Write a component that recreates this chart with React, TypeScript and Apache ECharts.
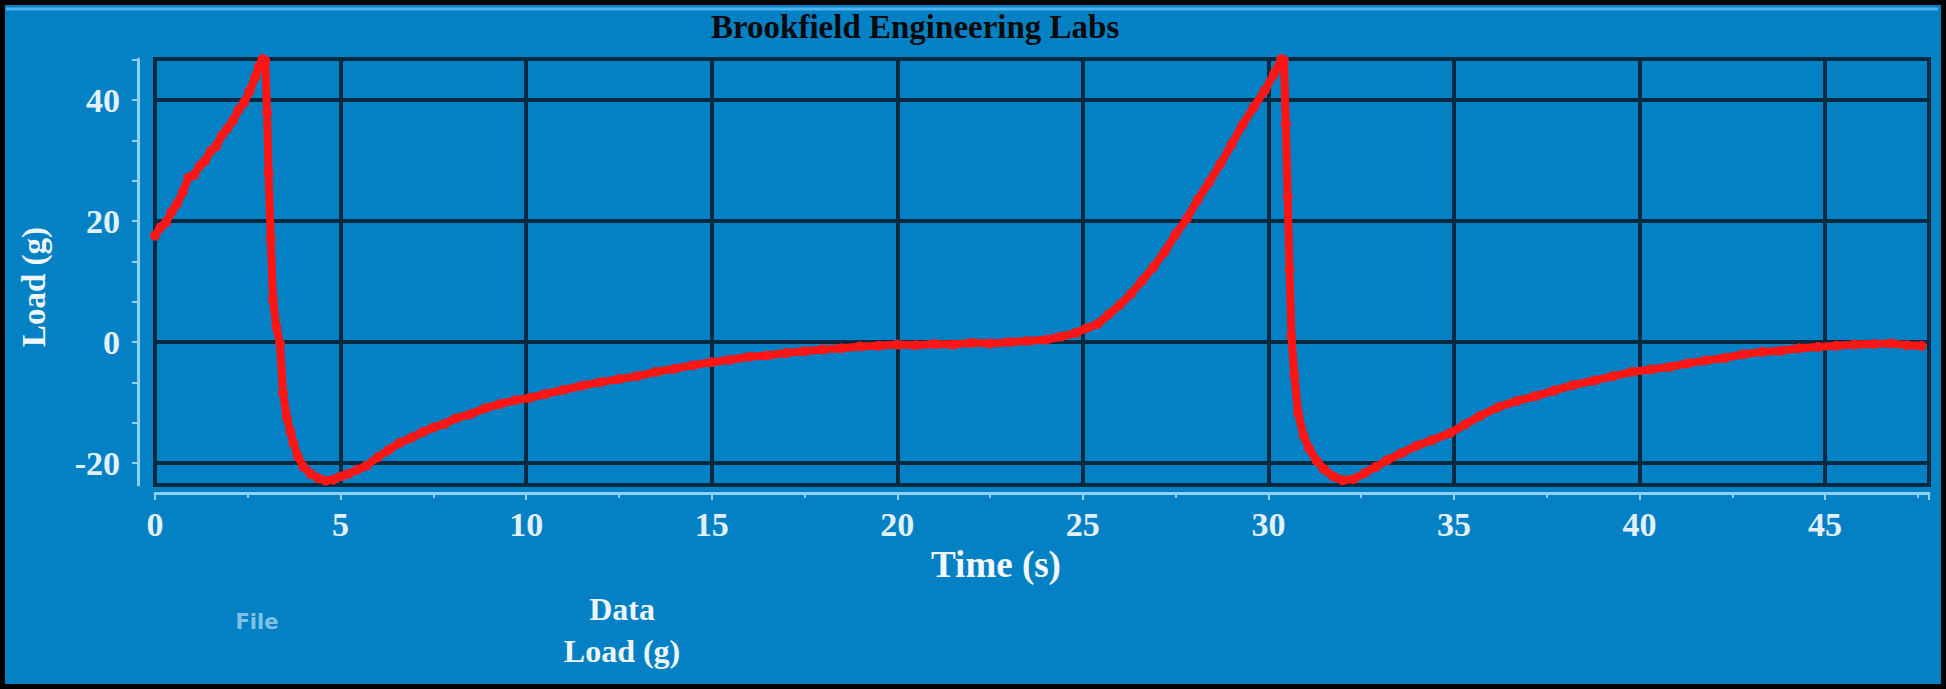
import React, { useEffect, useRef } from "react";
import * as echarts from "echarts";

// Time (s) and load (g)
const timeS = [
  0.0, 0.15, 0.3, 0.45, 0.6, 0.75, 0.9, 1.05, 1.2, 1.35, 1.5, 1.65, 1.8, 1.95, 2.1, 2.25, 2.4, 2.55, 2.7, 2.8, 2.9,
  2.97, 3.02, 3.06, 3.12, 3.18, 3.27, 3.37, 3.45, 3.55, 3.65, 3.73, 3.85, 4.0, 4.2, 4.4, 4.6, 4.8, 5.0, 5.2, 5.45,
  5.7, 6.0, 6.3, 6.6, 6.9, 7.2, 7.5, 7.8, 8.1, 8.5, 8.9, 9.3, 9.7, 10.1, 10.5, 11.0, 11.5, 12.0, 12.5, 13.0, 13.5,
  14.0, 14.5, 15.0, 15.5, 16.0, 16.5, 17.0, 17.5, 18.0, 18.5, 19.0, 19.5, 20.0, 20.5, 21.0, 21.5, 22.0, 22.5, 23.0,
  23.5, 24.0, 24.4, 24.8, 25.1, 25.4, 25.7, 26.0, 26.3, 26.6, 26.9, 27.2, 27.5, 27.8, 28.1, 28.4, 28.7, 29.0, 29.3,
  29.6, 29.9, 30.15, 30.35, 30.42, 30.47, 30.52, 30.57, 30.62, 30.7, 30.8, 30.95, 31.1, 31.3, 31.5, 31.75, 32.0,
  32.3, 32.6, 32.9, 33.2, 33.6, 34.0, 34.4, 34.9, 35.3, 35.7, 36.2, 36.7, 37.2, 37.7, 38.2, 38.8, 39.3, 39.8, 40.3,
  40.8, 41.3, 41.8, 42.3, 42.8, 43.3, 43.8, 44.3, 44.8, 45.3, 45.8, 46.3, 46.8, 47.2, 47.6,
];
const loadG = [
  17.6, 19.0, 19.8, 21.6, 22.9, 24.8, 27.2, 27.6, 29.1, 30.0, 31.6, 32.4, 34.2, 35.3, 36.6, 38.4, 39.6, 41.5, 43.8,
  45.6, 46.8, 46.5, 38.0, 28.0, 17.0, 7.0, 2.5, -0.3, -8.4, -12.4, -14.8, -16.7, -18.9, -20.6, -21.8, -22.5, -22.9,
  -22.7, -22.2, -21.8, -21.1, -20.4, -19.0, -17.8, -16.6, -15.8, -14.9, -14.1, -13.5, -12.6, -11.9, -10.9, -10.2,
  -9.6, -9.2, -8.6, -7.9, -7.2, -6.6, -6.1, -5.6, -4.9, -4.4, -3.8, -3.3, -2.9, -2.4, -2.2, -1.8, -1.5, -1.2, -1.0,
  -0.7, -0.6, -0.4, -0.5, -0.3, -0.4, -0.1, -0.2, 0.0, 0.2, 0.4, 0.9, 1.5, 2.3, 3.0, 4.6, 6.2, 8.0, 10.2, 12.4, 14.9,
  17.8, 20.4, 23.6, 26.4, 29.4, 32.6, 35.9, 38.8, 41.6, 44.3, 46.8, 46.6, 36.0, 24.0, 12.0, 1.0, -5.5, -11.7, -15.5,
  -17.6, -19.6, -21.0, -22.2, -22.8, -22.6, -21.6, -20.6, -19.5, -18.3, -17.1, -16.2, -15.0, -13.6, -12.2, -10.7,
  -9.7, -8.9, -8.0, -7.1, -6.3, -5.6, -4.9, -4.5, -4.1, -3.5, -3.0, -2.6, -2.0, -1.6, -1.4, -1.0, -0.8, -0.6, -0.4,
  -0.3, -0.2, -0.5, -0.6,
];

const yLabelValues = [-20, 0, 20, 40];
const yTickValues = [-20, -13.33, -6.67, 0, 6.67, 13.33, 20, 26.67, 33.33, 40, 46.67];
const yGridLines = [-20, 0, 20, 40];

const SERIF = '"Liberation Serif", "Times New Roman", serif';
const GRID_COLOR = "#062a40";
const AXIS_COLOR = "#8fcff2";
const LABEL_COLOR = "#e2f0fa";

export default function App() {
  const ref = useRef<HTMLDivElement>(null);

  useEffect(() => {
    const chart = echarts.init(ref.current!, null, { renderer: "svg" });
    const gridLineStyle = {
      color: GRID_COLOR,
      width: 4,
      type: "solid" as const,
    };
    chart.setOption({
      animation: false,
      backgroundColor: "#0381c4",
      title: {
        text: "Brookfield Engineering Labs",
        left: 711,
        top: 10,
        padding: 0,
        textStyle: { color: "#0a0a0a", fontSize: 33, fontWeight: "bold", fontFamily: SERIF },
      },
      grid: {
        left: 155,
        right: 17,
        top: 59,
        bottom: 204,
        show: true,
        borderColor: GRID_COLOR,
        borderWidth: 4,
        backgroundColor: "transparent",
      },
      xAxis: {
        type: "value",
        min: 0,
        max: 47.8,
        interval: 5,
        offset: 8,
        name: "Time (s)",
        nameLocation: "middle",
        nameGap: 50,
        nameTextStyle: {
          color: "#f2f8fc",
          fontSize: 37,
          fontWeight: "bold",
          fontFamily: SERIF,
          padding: [0, 92, 0, 0],
        },
        axisLine: { show: true, onZero: false, lineStyle: { color: AXIS_COLOR, width: 3 } },
        axisTick: { show: true, length: 7, lineStyle: { color: AXIS_COLOR, width: 2 } },
        minorTick: { show: true, splitNumber: 2, length: 5, lineStyle: { color: AXIS_COLOR, width: 2 } },
        axisLabel: {
          color: LABEL_COLOR,
          fontSize: 34,
          fontWeight: "bold",
          fontFamily: SERIF,
          margin: 14,
          showMaxLabel: false,
        },
        splitLine: { show: true, lineStyle: gridLineStyle },
      },
      yAxis: {
        type: "value",
        min: -23.6,
        max: 46.8,
        offset: 17,
        name: "Load (g)",
        nameLocation: "middle",
        nameGap: 88,
        nameRotate: 90,
        nameTextStyle: {
          color: "#eef6fb",
          fontSize: 33,
          fontWeight: "bold",
          fontFamily: SERIF,
          padding: [0, 30, 0, 0],
        },
        axisLine: { show: true, onZero: false, lineStyle: { color: AXIS_COLOR, width: 3 } },
        axisTick: { show: true, length: 6, customValues: yTickValues, lineStyle: { color: AXIS_COLOR, width: 2 } },
        axisLabel: {
          customValues: yLabelValues,
          color: LABEL_COLOR,
          fontSize: 34,
          fontWeight: "bold",
          fontFamily: SERIF,
          margin: 18,
        },
        splitLine: { show: false },
      },
      series: [
        {
          name: "Load (g)",
          type: "line",
          z: 3,
          data: timeS.map((t, i) => [t, loadG[i]]),
          showSymbol: true,
          showAllSymbol: true,
          symbol: "circle",
          symbolSize: 10,
          itemStyle: { color: "#ff1616" },
          lineStyle: { color: "#ff1414", width: 8, join: "round" },
          clip: true,
          markLine: {
            silent: true,
            z: 1,
            symbol: ["none", "none"],
            label: { show: false },
            lineStyle: gridLineStyle,
            data: yGridLines.map((v) => ({ yAxis: v })),
          },
        },
      ],
      graphic: [
        {
          type: "line",
          silent: true,
          shape: { x1: 6, y1: 9, x2: 1938, y2: 9 },
          style: { stroke: "#4fb3ec", lineWidth: 3 },
        },
        {
          type: "text",
          silent: true,
          x: 622,
          y: 609,
          style: {
            text: "Data",
            fill: "#eef6fb",
            font: `bold 32px ${SERIF}`,
            align: "center",
            verticalAlign: "middle",
            textAlign: "center",
            textVerticalAlign: "middle",
          },
        },
        {
          type: "text",
          silent: true,
          x: 622,
          y: 651,
          style: {
            text: "Load (g)",
            fill: "#eef6fb",
            font: `bold 32px ${SERIF}`,
            align: "center",
            verticalAlign: "middle",
            textAlign: "center",
            textVerticalAlign: "middle",
          },
        },
        {
          type: "text",
          silent: true,
          x: 257,
          y: 622,
          style: {
            text: "File",
            fill: "#a6d4f0",
            opacity: 0.8,
            font: 'bold 21px "DejaVu Sans", sans-serif',
            align: "center",
            verticalAlign: "middle",
            textAlign: "center",
            textVerticalAlign: "middle",
          },
        },
        {
          type: "rect",
          silent: true,
          z: 100,
          shape: { x: 2.5, y: 2.5, width: 1941, height: 684 },
          style: { fill: "none", stroke: "#000", lineWidth: 5 },
        },
      ],
    });
    return () => chart.dispose();
  }, []);

  return (
    <div
      ref={ref}
      style={{ position: "absolute", left: 0, top: 0, width: 1946, height: 689 }}
    />
  );
}
